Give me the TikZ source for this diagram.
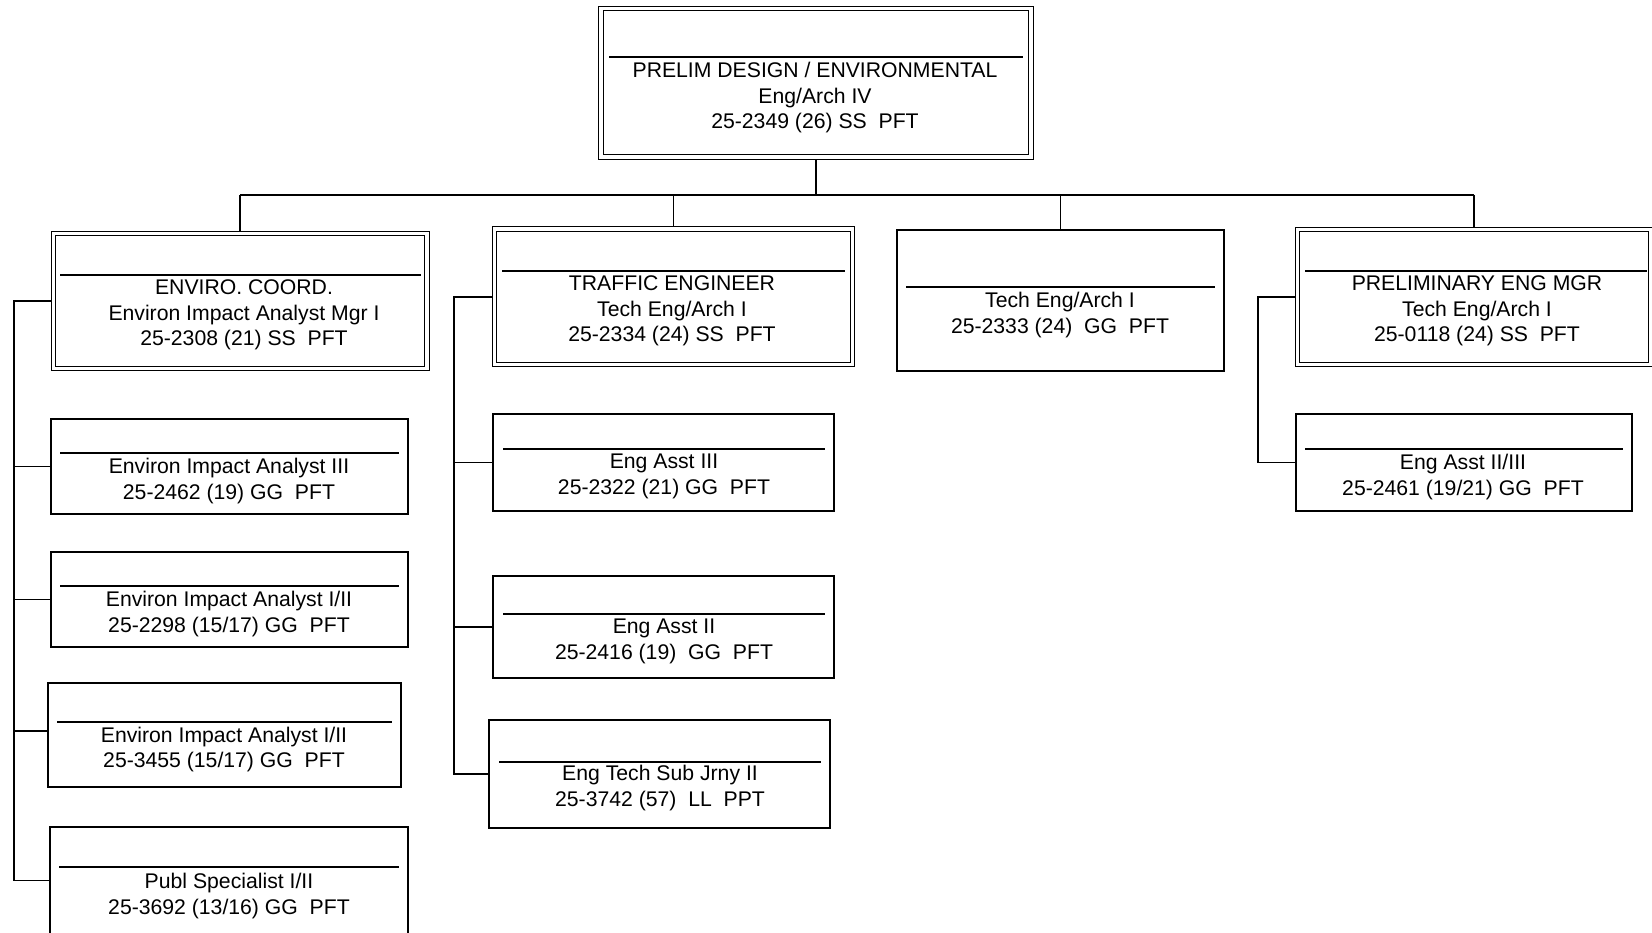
\documentclass[tikz,border=0pt]{standalone}
\usepackage{fontspec}
\setmainfont{Liberation Sans}
\usetikzlibrary{fit,backgrounds}
\begin{document}
\begin{tikzpicture}[x=1pt,y=-1pt,
  sbox/.style={draw, line width=1.6pt, inner sep=0pt, outer sep=0pt},
  dbox/.style={draw, double, line width=1.3pt, double distance=3.2pt, inner sep=0pt, outer sep=0pt},
  lbl/.style={align=center, inner sep=0pt, font=\fontsize{21.2}{25.5}\selectfont},
  sepline/.style={line width=1.5pt},
  conn/.style={line width=1.8pt}]
\useasboundingbox (0,0) rectangle (1652,933);
\clip (0,0) rectangle (1652,933);

% boxes
\node[dbox, fit={(601,8.5) (1031,157)}] (top) {};
\node[dbox, fit={(53.5,233.5) (427,368.5)}] (enviro) {};
\node[dbox, fit={(494.5,229) (852.5,364.5)}] (traffic) {};
\node[sbox, fit={(897,230) (1224,371)}] (tech) {};
\node[dbox, fit={(1297.5,229.5) (1650.5,364.5)}] (prelim) {};
\node[sbox, fit={(51,419) (408,514)}] (eia3) {};
\node[sbox, fit={(51,552) (408,647)}] (eia12a) {};
\node[sbox, fit={(48,683) (401,787)}] (eia12b) {};
\node[sbox, fit={(50,827) (408,934)}] (publ) {};
\node[sbox, fit={(493,414) (834,511)}] (ea3) {};
\node[sbox, fit={(493,576) (834,678)}] (ea2) {};
\node[sbox, fit={(489,720) (830,828)}] (etsj) {};
\node[sbox, fit={(1296,414) (1632,511)}] (ea23) {};

% separator lines
\draw[sepline] (609,57) -- (1023,57);
\draw[sepline] (60,275) -- (421,275);
\draw[sepline] (502,271) -- (845,271);
\draw[sepline] (906,287) -- (1215,287);
\draw[sepline] (1305,271) -- (1647,271);
\draw[sepline] (60,453) -- (399,453);
\draw[sepline] (60,586) -- (399,586);
\draw[sepline] (57,722) -- (392,722);
\draw[sepline] (59,867) -- (399,867);
\draw[sepline] (503,449) -- (825,449);
\draw[sepline] (503,614) -- (825,614);
\draw[sepline] (499,762) -- (821,762);
\draw[sepline] (1305,449) -- (1623,449);

% texts
\node[lbl] (top-t) at (815,98) {PRELIM DESIGN / ENVIRONMENTAL\\Eng/Arch IV\\25-2349 (26) SS\ \ PFT};
\node[lbl] (enviro-t) at (244,315) {ENVIRO. COORD.\\Environ Impact Analyst Mgr I\\25-2308 (21) SS\ \ PFT};
\node[lbl] (traffic-t) at (672,311) {TRAFFIC ENGINEER\\Tech Eng/Arch I\\25-2334 (24) SS\ \ PFT};
\node[lbl] (tech-t) at (1060,315) {Tech Eng/Arch I\\25-2333 (24)\ \ GG\ \ PFT};
\node[lbl] (prelim-t) at (1477,311) {PRELIMINARY ENG MGR\\Tech Eng/Arch I\\25-0118 (24) SS\ \ PFT};
\node[lbl] (eia3-t) at (229,481) {Environ Impact Analyst III\\25-2462 (19) GG\ \ PFT};
\node[lbl] (eia12a-t) at (229,614) {Environ Impact Analyst I/II\\25-2298 (15/17) GG\ \ PFT};
\node[lbl] (eia12b-t) at (224,749.5) {Environ Impact Analyst I/II\\25-3455 (15/17) GG\ \ PFT};
\node[lbl] (publ-t) at (229,896) {Publ Specialist I/II\\25-3692 (13/16) GG\ \ PFT};
\node[lbl] (ea3-t) at (664,476.5) {Eng Asst III\\25-2322 (21) GG\ \ PFT};
\node[lbl] (ea2-t) at (664,641.5) {Eng Asst II\\25-2416 (19)\ \ GG\ \ PFT};
\node[lbl] (etsj-t) at (660,788) {Eng Tech Sub Jrny II\\25-3742 (57)\ \ LL\ \ PPT};
\node[lbl] (ea23-t) at (1463,477) {Eng Asst II/III\\25-2461 (19/21) GG\ \ PFT};

% connectors
\coordinate (bar) at (0,195);
\coordinate (lsp) at (14,0);
\coordinate (msp) at (454,0);
\coordinate (rsp) at (1258,0);
\begin{scope}[on background layer]
\draw[conn] (top.south) -- (top.south |- bar);
\draw[conn] (enviro.north |- bar) -- (prelim.north |- bar);
\draw[conn] (enviro.north |- bar) -- (enviro.north);
\draw[conn] (traffic.north |- bar) -- (traffic.north);
\draw[conn] (tech.north |- bar) -- (tech.north);
\draw[conn] (prelim.north |- bar) -- (prelim.north);
% left spine
\draw[conn] (enviro.west) -- (enviro.west -| lsp) -- (publ.west -| lsp) -- (publ.west);
\draw[conn] (eia3.west) -- (eia3.west -| lsp);
\draw[line width=1.1pt] (eia12a.west) -- (eia12a.west -| lsp);
\draw[conn] ([yshift=4pt]eia12b.west) -- ([yshift=4pt]eia12b.west -| lsp);
% middle spine
\draw[conn] (traffic.west) -- (traffic.west -| msp) -- (etsj.west -| msp) -- (etsj.west);
\draw[conn] (ea3.west) -- (ea3.west -| msp);
\draw[conn] (ea2.west) -- (ea2.west -| msp);
% right spine
\draw[conn] (prelim.west) -- (prelim.west -| rsp) -- (ea23.west -| rsp) -- (ea23.west);
\end{scope}
\end{tikzpicture}
\end{document}
